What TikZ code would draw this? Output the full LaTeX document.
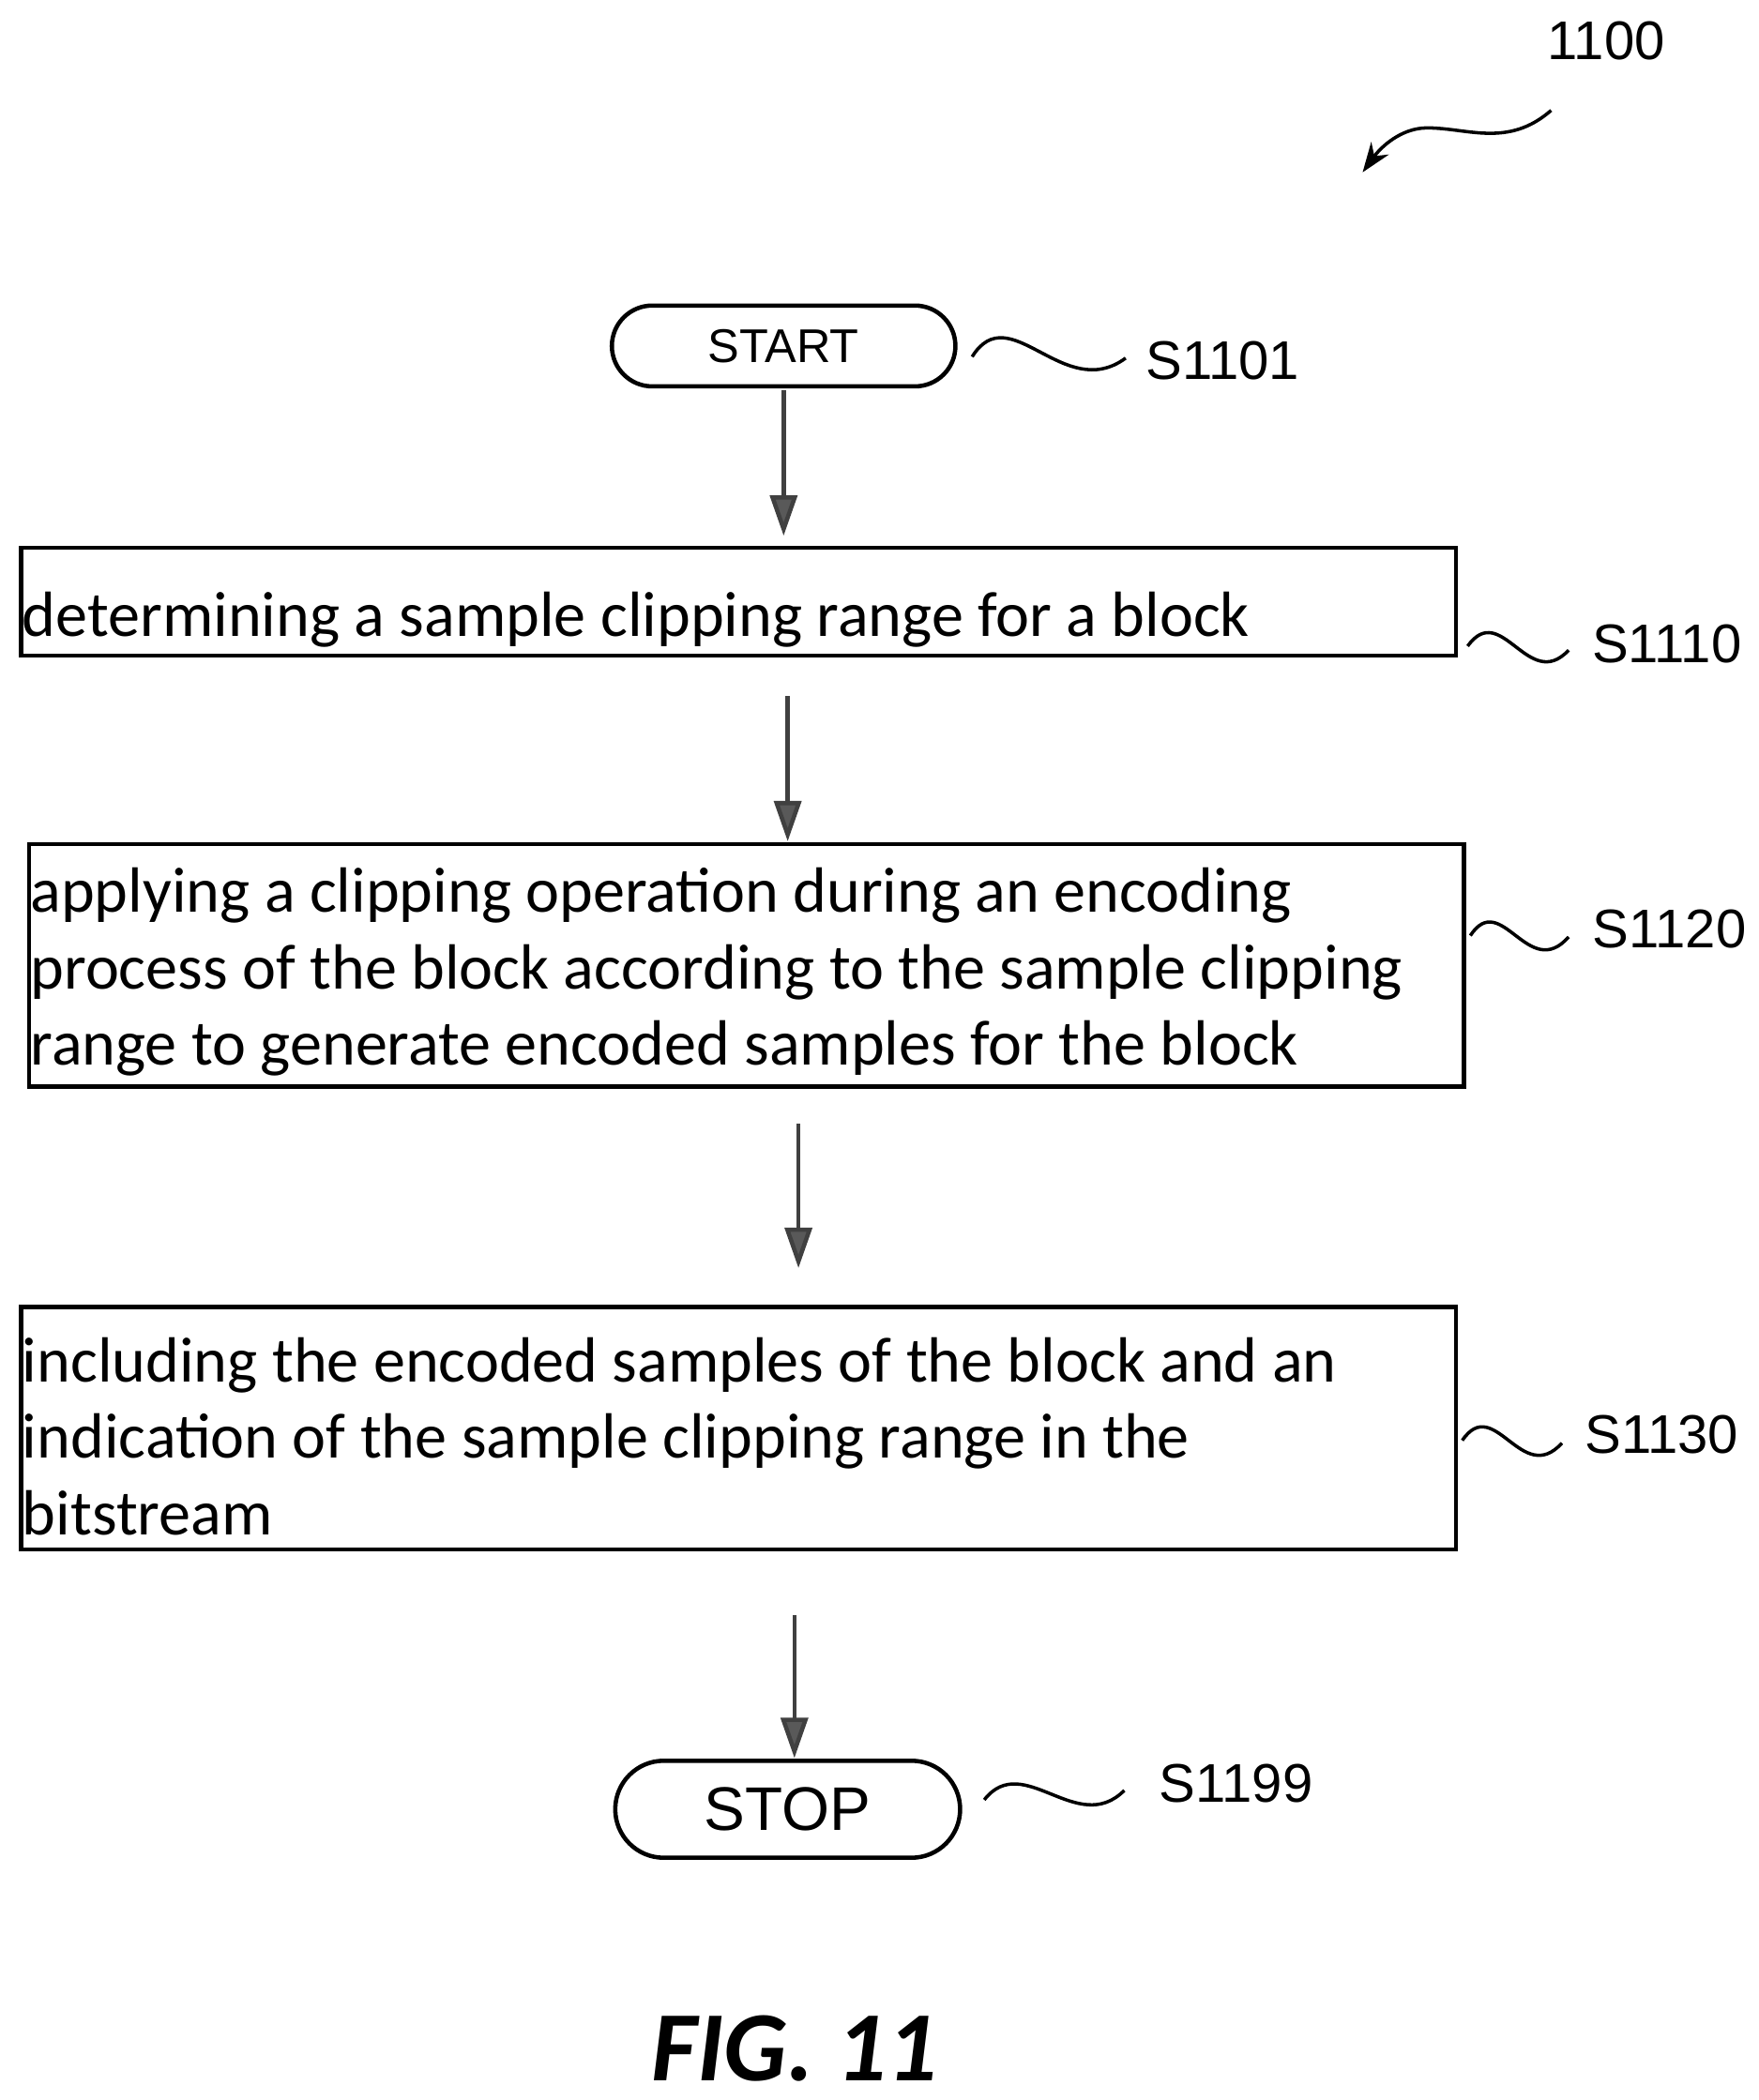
\documentclass[tikz,border=0pt]{standalone}
\usepackage{fontspec}
\setmainfont{Carlito}
\newfontfamily\arialf{Liberation Sans}
\usetikzlibrary{arrows.meta}
\begin{document}
\begin{tikzpicture}[x=0.01cm,y=-0.01cm,
  box/.style={draw,line width=0.9pt,inner sep=0pt},
  txt/.style={font=\fontsize{13.5}{16.2}\selectfont,align=left,anchor=west,inner sep=0pt},
  term/.style={draw,line width=0.9pt,rounded corners=0.3cm,font=\arialf\fontsize{10}{12}\selectfont},
  lab/.style={font=\arialf\fontsize{11.5}{14}\selectfont,inner sep=0pt},
  arr/.style={draw=black!75,line width=0.9pt,-{Triangle[length=0.3cm,width=0.2cm,fill=black!65]}},
  sq/.style={line width=0.7pt}]
\useasboundingbox (0,0) rectangle (1306,1560);
% 1100
\node[lab] (n1100) at (1193,30) {1100};
\coordinate (w1) at (1152,82);
\coordinate (w2) at (1012,128);
\draw[sq,-{Stealth[length=0.22cm,width=0.16cm]}] (w1) .. controls (1120,110) and (1090,95) .. (1060,95) .. controls (1040,95) and (1025,110) .. (w2);
% start
\node[term,minimum width=2.55cm,minimum height=0.6cm] (start) at (582,257) {START};
\node[lab] (s1101) at (908,268) {S1101};
\draw[sq] (722,265) .. controls (750,220) and (790,300) .. (836,266);
% box1
\node[box,minimum width=10.65cm,minimum height=0.8cm] (b1) at (548.5,447) {};
\node[txt] (t1) at (16,460) {determining a sample clipping range for a block};
\node[lab] (s1110) at (1238,478) {S1110};
\draw[sq] (1090,480) .. controls (1115,445) and (1135,515) .. (1165,483);
% box2
\node[box,minimum width=10.65cm,minimum height=1.8cm] (b2) at (554.5,717) {};
\node[txt] (t2) at (22,722) {applying a clipping operation during an encoding\\process of the block according to the sample clipping\\range to generate encoded samples for the block};
\node[lab] (s1120) at (1240,690) {S1120};
\draw[sq] (1092,695) .. controls (1115,660) and (1135,730) .. (1165,696);
% box3
\node[box,minimum width=10.65cm,minimum height=1.8cm] (b3) at (548.5,1061) {};
\node[txt] (t3) at (16,1067) {including the encoded samples of the block and an\\indication of the sample clipping range in the\\bitstream};
\node[lab] (s1130) at (1234,1066) {S1130};
\draw[sq] (1086,1070) .. controls (1110,1035) and (1130,1105) .. (1160,1072);
% stop
\node[term,minimum width=2.56cm,minimum height=0.72cm,rounded corners=0.36cm,font=\arialf\fontsize{13}{15}\selectfont] (stop) at (585,1344) {STOP};
\node[lab] (s1199) at (918,1325) {S1199};
\draw[sq] (731,1337) .. controls (760,1300) and (800,1365) .. (835,1330);
% arrows
\coordinate (a1) at (582,290); \coordinate (a1e) at (582,398);
\coordinate (a2) at (585,517); \coordinate (a2e) at (585,625);
\coordinate (a3) at (593,835); \coordinate (a3e) at (593,942);
\coordinate (a4) at (590,1200); \coordinate (a4e) at (590,1306);
\draw[arr] (a1) -- (a1e);
\draw[arr] (a2) -- (a2e);
\draw[arr] (a3) -- (a3e);
\draw[arr] (a4) -- (a4e);
\node[font=\bfseries\itshape\fontsize{21}{24}\selectfont] (fig) at (590,1522) {FIG. 11};
\end{tikzpicture}
\end{document}
